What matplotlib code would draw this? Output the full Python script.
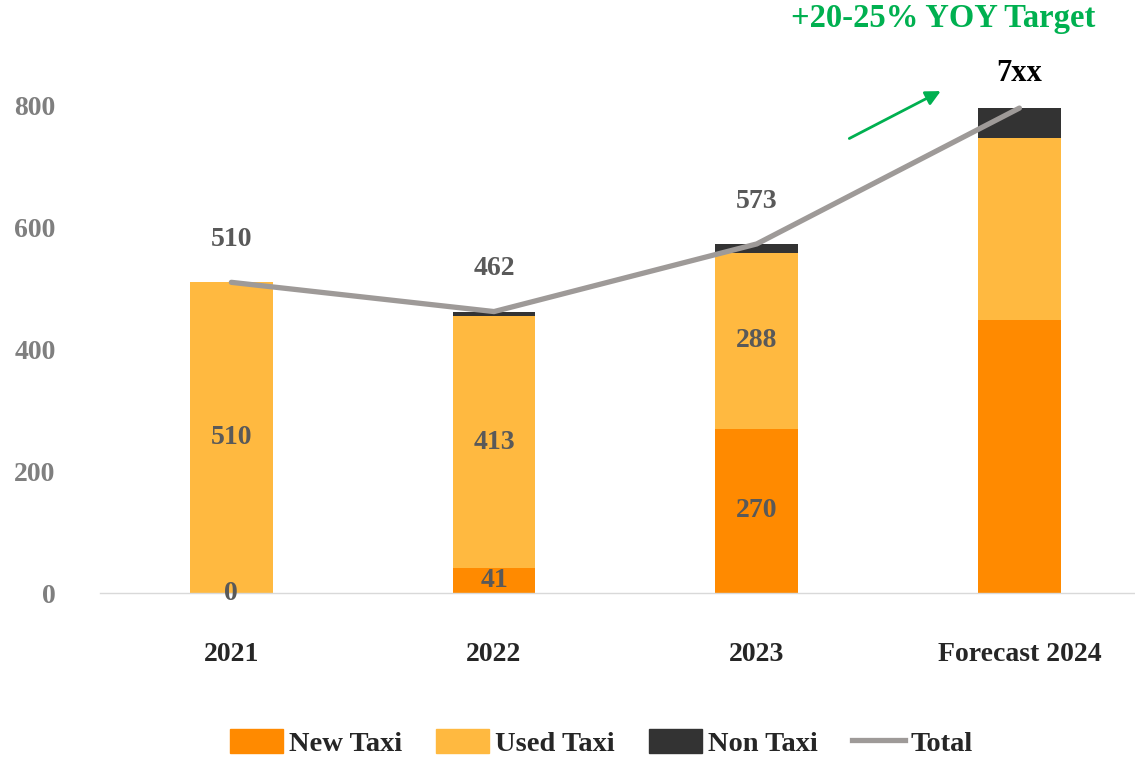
import matplotlib.pyplot as plt
from matplotlib.patches import Patch
from matplotlib.lines import Line2D

# data
years = ['2021', '2022', '2023', 'Forecast 2024']
new_taxi = [0, 41, 270, 448]
used_taxi = [510, 413, 288, 299]
non_taxi = [0, 8, 15, 49]
totals = [510, 462, 573, 796]
total_labels = ['510', '462', '573', '7xx']
new_labels = ['0', '41', '270', '']
used_labels = ['510', '413', '288', '']
yticks = [0, 200, 400, 600, 800]

c_new = '#ff8a00'
c_used = '#ffb940'
c_non = '#333333'
c_total = '#9e9a98'
c_green = '#00b050'

plt.rcParams['font.family'] = ['Liberation Serif', 'DejaVu Serif']
plt.rcParams['font.weight'] = 'bold'

fig = plt.figure(figsize=(11.35, 7.57), dpi=100)
ax = fig.add_axes([0.0881, 0.2166, 0.9119, 0.705])

x = list(range(len(years)))
w = 0.315
bottom2 = [a + b for a, b in zip(new_taxi, used_taxi)]
ax.bar(x, new_taxi, w, color=c_new)
ax.bar(x, used_taxi, w, bottom=new_taxi, color=c_used)
ax.bar(x, non_taxi, w, bottom=bottom2, color=c_non)
ax.plot(x, totals, color=c_total, lw=3.8, solid_capstyle='round')

for i in x:
    if new_labels[i]:
        ax.text(i, new_taxi[i] / 2, new_labels[i], ha='center', va='center',
                fontsize=20, color='#595959', fontweight='bold')
    if used_labels[i]:
        ax.text(i, new_taxi[i] + used_taxi[i] / 2, used_labels[i],
                ha='center', va='center', fontsize=20, color='#595959',
                fontweight='bold')
    col = 'black' if i == 3 else '#595959'
    fs = 22 if i == 3 else 20
    off = 56 if i == 3 else 70
    ax.text(i, totals[i] + off, total_labels[i], ha='center', va='center',
            fontsize=fs, color=col, fontweight='bold')

# green trend arrow
ax.annotate('', xy=(2.71, 826), xytext=(2.343, 744),
            arrowprops=dict(arrowstyle='-|>', color=c_green, lw=2,
                            mutation_scale=22))
fig.text(0.831, 0.975, '+20-25% YOY Target', ha='center', va='center',
         fontsize=23.5, color=c_green, fontweight='bold')

ax.set_xlim(-0.5, 3.44)
ax.set_ylim(0, 876)
ax.set_yticks(yticks)
ax.set_yticklabels([str(v) for v in yticks], fontsize=20, color='#7f7f7f')
ax.set_xticks(x)
ax.set_xticklabels(years, fontsize=20, color='#262626')
ax.tick_params(axis='y', length=0, pad=32)
ax.tick_params(axis='x', length=0, pad=35)
for s in ['top', 'right', 'left']:
    ax.spines[s].set_visible(False)
ax.spines['bottom'].set_color('#d9d9d9')
ax.spines['bottom'].set_linewidth(1)

handles = [Patch(color=c_new, label='New Taxi'),
           Patch(color=c_used, label='Used Taxi'),
           Patch(color=c_non, label='Non Taxi'),
           Line2D([0], [0], color=c_total, lw=3.8, label='Total')]
fig.legend(handles=handles, loc='center', bbox_to_anchor=(0.53, 0.0185),
           ncol=4, frameon=False, fontsize=20.5, handlelength=1.85,
           handleheight=0.9, handletextpad=0.22, columnspacing=1.2,
           labelcolor='#262626')

fig.savefig('out.png', dpi=100)
